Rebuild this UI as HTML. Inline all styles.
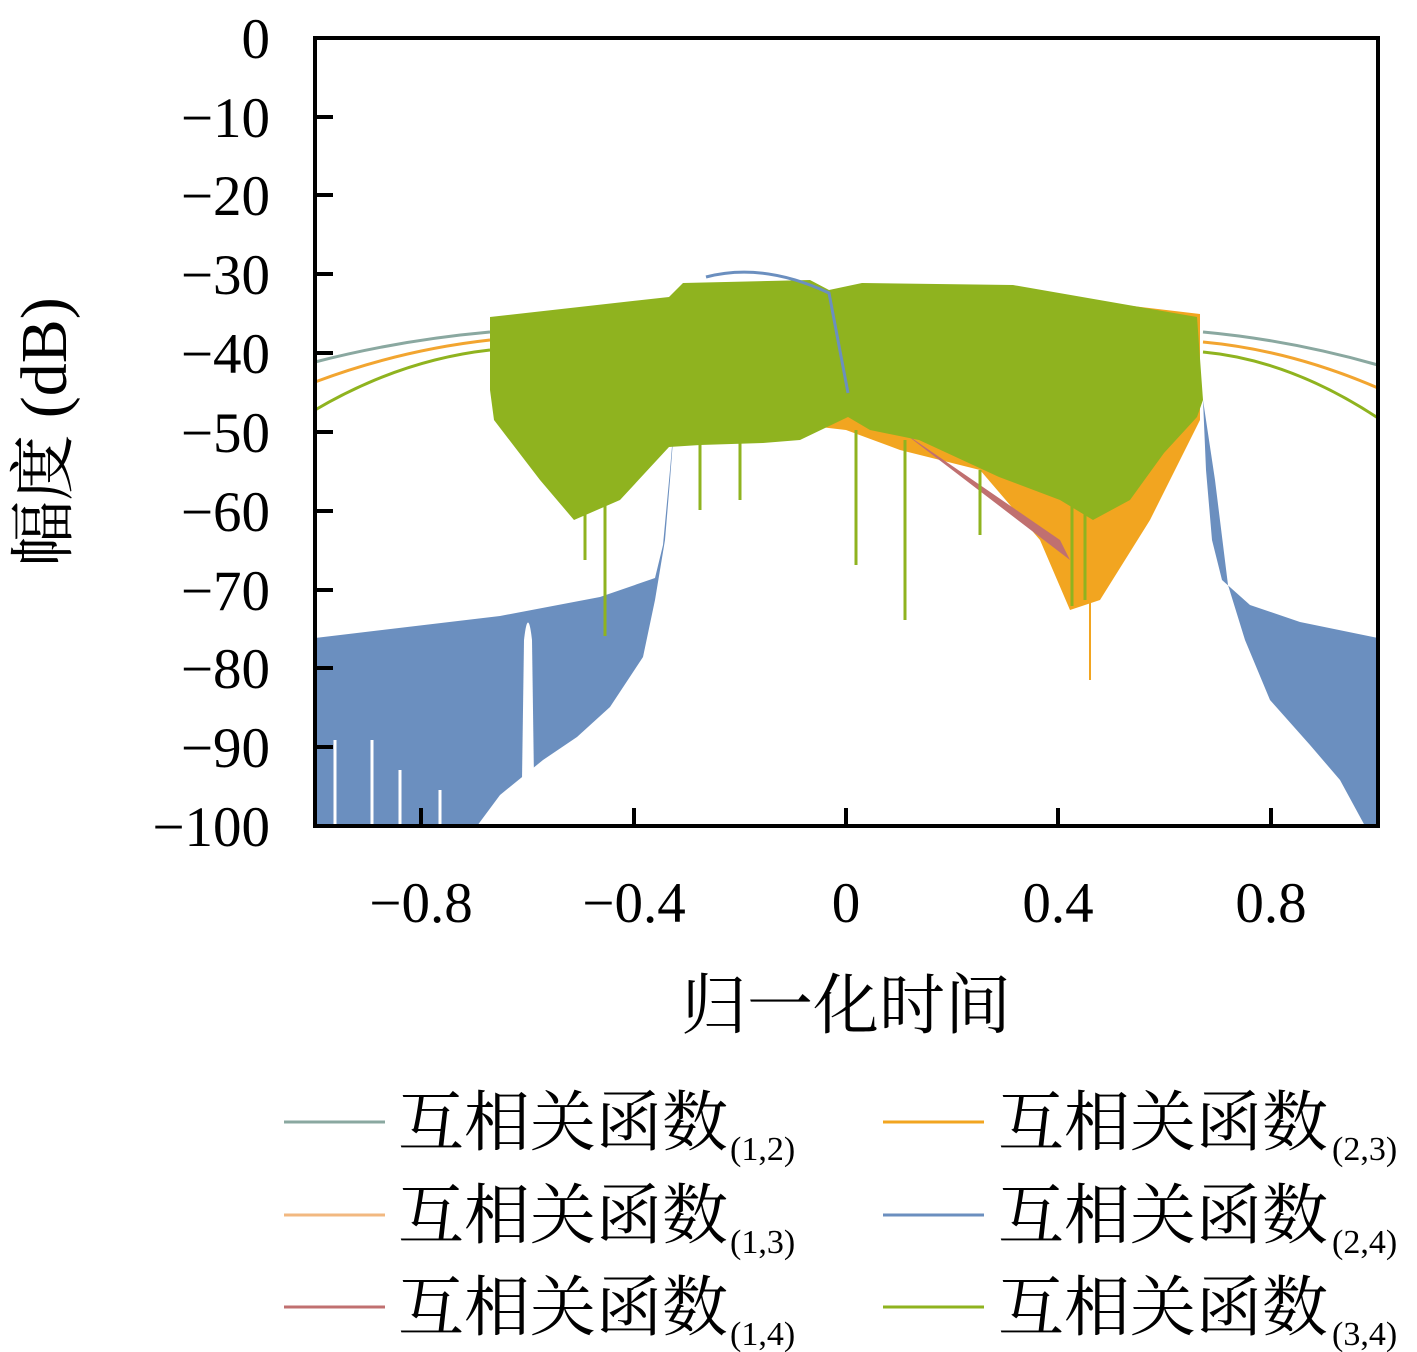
<!DOCTYPE html>
<html><head><meta charset="utf-8"><style>
body{margin:0;background:#fff}
svg{display:block}
.t{font-family:"Liberation Serif","DejaVu Serif",serif;font-size:57px;fill:#000}
.c{font-family:"Liberation Serif","Noto Serif CJK SC",serif;font-size:66px;fill:#000}
.s{font-family:"Liberation Serif",serif;font-size:34px;fill:#000}
</style></head><body>
<svg width="1417" height="1352" viewBox="0 0 1417 1352" xmlns="http://www.w3.org/2000/svg">
<rect width="1417" height="1352" fill="#fff"/>
<!-- outer lines -->
<path d="M315,362 Q400,340 490,332" stroke="#8aa8a0" stroke-width="3" fill="none"/>
<path d="M315,382 Q400,350 490,340" stroke="#f2a530" stroke-width="3" fill="none"/>
<path d="M315,410 Q400,360 490,350" stroke="#8fb31f" stroke-width="3" fill="none"/>
<path d="M1378,365 Q1290,340 1203,332" stroke="#8aa8a0" stroke-width="3" fill="none"/>
<path d="M1378,388 Q1290,350 1203,342" stroke="#f2a530" stroke-width="3" fill="none"/>
<path d="M1378,418 Q1290,360 1203,352" stroke="#8fb31f" stroke-width="3" fill="none"/>
<!-- blue left -->
<path d="M315,638 L500,616 L600,597 L655,578 L663,545 L670,470 L676,400 L670,480 L665,540 L655,600 L643,657 L610,707 L577,737 L543,760 L500,795 L477,826 L315,826 Z" fill="#6b8fbf"/>
<path d="M522,780 L524,640 Q528,605 532,640 L534,780 Z" fill="#fff"/>
<g stroke="#fff" stroke-width="3"><line x1="335" y1="740" x2="335" y2="826"/><line x1="372" y1="740" x2="372" y2="826"/><line x1="400" y1="770" x2="400" y2="826"/><line x1="440" y1="790" x2="440" y2="826"/></g>
<!-- blue right -->
<path d="M1378,638 L1300,622 L1250,605 L1222,580 L1212,540 L1206,470 L1203,400 L1215,480 L1228,585 L1245,640 L1270,700 L1310,745 L1340,780 L1365,826 L1378,826 Z" fill="#6b8fbf"/>
<!-- orange under -->
<path d="M760,300 L846,288 L1022,293 L1200,314 L1200,420 L1150,520 L1100,600 L1070,610 L1040,540 L980,470 L900,450 L846,430 L760,420 Z" fill="#f2a520"/>
<path d="M900,430 L1060,540 L1090,600 L1070,560 Z" fill="#c07070"/>
<!-- green band -->
<path d="M490,317 L669,297 L683,283 L810,280 L829,290 L862,283 L1013,285 L1197,317 L1203,400 L1197,417 L1164,453 L1130,500 L1093,520 L1060,500 L999,477 L919,440 L870,430 L848,417 L800,440 L763,443 L700,445 L669,447 L620,500 L574,520 L540,480 L494,420 L490,390 Z" fill="#8fb31f"/>
<path d="M706,277 Q763,262 829,293 L848,393" stroke="#6b8fbf" stroke-width="3" fill="none"/>
<g stroke="#8fb31f" stroke-width="3">
<line x1="605" y1="450" x2="605" y2="636"/><line x1="905" y1="440" x2="905" y2="620"/><line x1="856" y1="430" x2="856" y2="565"/><line x1="1072" y1="500" x2="1072" y2="606"/><line x1="1085" y1="500" x2="1085" y2="600"/><line x1="980" y1="470" x2="980" y2="535"/><line x1="585" y1="500" x2="585" y2="560"/><line x1="700" y1="440" x2="700" y2="510"/><line x1="740" y1="440" x2="740" y2="500"/></g>
<line x1="1090" y1="560" x2="1090" y2="680" stroke="#f2a520" stroke-width="2"/>
<!-- axes -->
<rect x="315" y="38" width="1063" height="788" fill="none" stroke="#000" stroke-width="4"/>
<g stroke="#000" stroke-width="4">
<line x1="315" y1="117" x2="333" y2="117"/><line x1="315" y1="195" x2="333" y2="195"/><line x1="315" y1="274" x2="333" y2="274"/><line x1="315" y1="353" x2="333" y2="353"/><line x1="315" y1="432" x2="333" y2="432"/><line x1="315" y1="511" x2="333" y2="511"/><line x1="315" y1="590" x2="333" y2="590"/><line x1="315" y1="668" x2="333" y2="668"/><line x1="315" y1="747" x2="333" y2="747"/>
<line x1="421" y1="826" x2="421" y2="808"/><line x1="634" y1="826" x2="634" y2="808"/><line x1="846" y1="826" x2="846" y2="808"/><line x1="1058" y1="826" x2="1058" y2="808"/><line x1="1271" y1="826" x2="1271" y2="808"/>
</g>
<g class="t" text-anchor="end">
<text x="270" y="58">0</text><text x="270" y="137">−10</text><text x="270" y="215">−20</text><text x="270" y="294">−30</text><text x="270" y="373">−40</text><text x="270" y="452">−50</text><text x="270" y="531">−60</text><text x="270" y="610">−70</text><text x="270" y="688">−80</text><text x="270" y="767">−90</text><text x="270" y="846">−100</text>
</g>
<g class="t" text-anchor="middle">
<text x="421" y="922">−0.8</text><text x="634" y="922">−0.4</text><text x="846" y="922">0</text><text x="1058" y="922">0.4</text><text x="1271" y="922">0.8</text>
</g>
<text class="c" x="846" y="1028" text-anchor="middle" font-size="62">归一化时间</text>
<text class="c" transform="translate(66,432) rotate(-90)" text-anchor="middle" font-size="60">幅度 (dB)</text>
<!-- legend -->
<g stroke-width="3">
<line x1="284" y1="1122" x2="385" y2="1122" stroke="#8aa8a0"/>
<line x1="284" y1="1215" x2="385" y2="1215" stroke="#f2b880"/>
<line x1="284" y1="1307" x2="385" y2="1307" stroke="#c07070"/>
<line x1="883" y1="1122" x2="984" y2="1122" stroke="#f2a520"/>
<line x1="883" y1="1215" x2="984" y2="1215" stroke="#6b8fbf"/>
<line x1="883" y1="1307" x2="984" y2="1307" stroke="#8fb31f"/>
</g>
<text class="c" x="398" y="1145">互相关函数</text><text class="s" x="730" y="1160">(1,2)</text>
<text class="c" x="398" y="1238">互相关函数</text><text class="s" x="730" y="1253">(1,3)</text>
<text class="c" x="398" y="1330">互相关函数</text><text class="s" x="730" y="1345">(1,4)</text>
<text class="c" x="998" y="1145">互相关函数</text><text class="s" x="1332" y="1160">(2,3)</text>
<text class="c" x="998" y="1238">互相关函数</text><text class="s" x="1332" y="1253">(2,4)</text>
<text class="c" x="998" y="1330">互相关函数</text><text class="s" x="1332" y="1345">(3,4)</text>
</svg>
</body></html>
